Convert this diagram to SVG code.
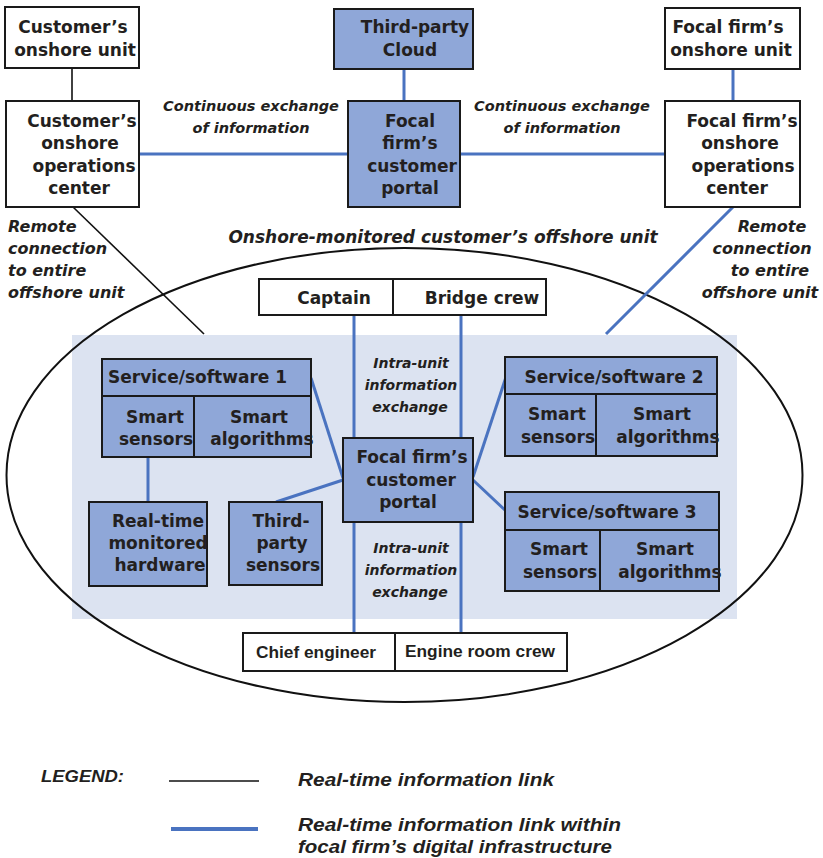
<svg xmlns="http://www.w3.org/2000/svg" width="823" height="858" viewBox="0 0 823 858">
<style>
.wb{fill:#fff;stroke:#1a1a1a;stroke-width:2}
.bb{fill:#8fa7d8;stroke:#1a1a1a;stroke-width:2}
.t{font-family:"DejaVu Sans",sans-serif;font-weight:bold;font-size:17px;fill:#231f20;text-anchor:middle}
.i{font-family:"DejaVu Sans",sans-serif;font-weight:bold;font-style:italic;fill:#231f20;text-anchor:middle}
.n{font-family:"Liberation Sans",sans-serif;font-weight:bold;fill:#231f20}
.s{text-anchor:start}
.bl{stroke:#4a73c0;stroke-width:3;fill:none}
.kl{stroke:#111;stroke-width:1.6;fill:none}
</style>
<rect x="72" y="335" width="665" height="284" fill="#dce3f1"/>
<ellipse cx="404.5" cy="475" rx="398" ry="227" fill="none" stroke="#111" stroke-width="2"/>
<g id="connectors">
<line class="kl" x1="72" y1="68" x2="72" y2="101"/>
<line class="kl" x1="73" y1="207" x2="204" y2="334"/>
<line class="bl" x1="404" y1="69" x2="404" y2="101"/>
<line class="bl" x1="139" y1="154" x2="348" y2="154"/>
<line class="bl" x1="460" y1="154" x2="665" y2="154"/>
<line class="bl" x1="733" y1="69" x2="733" y2="101"/>
<line class="bl" x1="733" y1="207" x2="606" y2="334"/>
<line class="bl" x1="354" y1="315" x2="354" y2="438"/>
<line class="bl" x1="354" y1="522" x2="354" y2="633"/>
<line class="bl" x1="461" y1="315" x2="461" y2="438"/>
<line class="bl" x1="461" y1="522" x2="461" y2="633"/>
<line class="bl" x1="311" y1="378" x2="343" y2="478"/>
<line class="bl" x1="343" y1="480" x2="276" y2="502"/>
<line class="bl" x1="148" y1="457" x2="148" y2="502"/>
<line class="bl" x1="473" y1="477" x2="506" y2="377"/>
<line class="bl" x1="473" y1="480" x2="506" y2="511"/>
</g>
<g id="cust-unit">
<rect class="wb" x="5" y="7" width="134" height="61"/>
<text class="t" x="73" y="33">Customer’s</text>
<text class="t" x="75" y="56">onshore unit</text>
</g>
<g id="cust-ops">
<rect class="wb" x="6" y="101" width="133" height="106"/>
<text class="t" x="82" y="127">Customer’s</text>
<text class="t" x="80" y="149">onshore</text>
<text class="t" x="84" y="172">operations</text>
<text class="t" x="79" y="194">center</text>
</g>
<g id="cloud">
<rect class="bb" x="334" y="9" width="139" height="60"/>
<text class="t" x="415" y="33">Third-party</text>
<text class="t" x="410" y="56">Cloud</text>
</g>
<g id="portal-top">
<rect class="bb" x="348" y="101" width="112" height="106"/>
<text class="t" x="410" y="127">Focal</text>
<text class="t" x="410" y="149">firm’s</text>
<text class="t" x="412" y="172">customer</text>
<text class="t" x="410" y="194">portal</text>
</g>
<g id="focal-unit">
<rect class="wb" x="665" y="8" width="135" height="61"/>
<text class="t" x="728" y="33">Focal firm’s</text>
<text class="t" x="731" y="56">onshore unit</text>
</g>
<g id="focal-ops">
<rect class="wb" x="665" y="101" width="135" height="106"/>
<text class="t" x="742" y="127">Focal firm’s</text>
<text class="t" x="740" y="149">onshore</text>
<text class="t" x="743" y="172">operations</text>
<text class="t" x="737" y="194">center</text>
</g>
<g id="labels">
<text class="i" font-size="14.5" x="251" y="111">Continuous exchange</text>
<text class="i" font-size="14.5" x="251" y="133">of information</text>
<text class="i" font-size="14.5" x="562" y="111">Continuous exchange</text>
<text class="i" font-size="14.5" x="562" y="133">of information</text>
<text class="i" font-size="17" x="443" y="243">Onshore-monitored customer’s offshore unit</text>
<text class="i s" font-size="16" x="8" y="232">Remote</text>
<text class="i s" font-size="16" x="8" y="254">connection</text>
<text class="i s" font-size="16" x="8" y="276">to entire</text>
<text class="i s" font-size="16" x="8" y="298">offshore unit</text>
<text class="i" font-size="16" x="772" y="232">Remote</text>
<text class="i" font-size="16" x="762" y="254">connection</text>
<text class="i" font-size="16" x="770" y="276">to entire</text>
<text class="i" font-size="16" x="760" y="298">offshore unit</text>
<text class="i" font-size="14" x="411" y="368">Intra-unit</text>
<text class="i" font-size="14" x="411" y="390">information</text>
<text class="i" font-size="14" x="410" y="412">exchange</text>
<text class="i" font-size="14" x="411" y="553">Intra-unit</text>
<text class="i" font-size="14" x="411" y="575">information</text>
<text class="i" font-size="14" x="410" y="597">exchange</text>
</g>
<g id="bridge">
<rect class="wb" x="259" y="279" width="134" height="36"/>
<rect class="wb" x="393" y="279" width="153" height="36"/>
<text class="t" x="334" y="304">Captain</text>
<text class="t" x="482" y="304">Bridge crew</text>
</g>
<g id="portal">
<rect class="bb" x="343" y="438" width="130" height="84"/>
<text class="t" x="412" y="463">Focal firm’s</text>
<text class="t" x="411" y="486">customer</text>
<text class="t" x="408" y="508">portal</text>
</g>
<g id="sw1">
<rect class="bb" x="102" y="359" width="209" height="37"/>
<rect class="bb" x="102" y="396" width="92" height="61"/>
<rect class="bb" x="194" y="396" width="117" height="61"/>
<text class="t s" x="108" y="383">Service/software 1</text>
<text class="t" x="155" y="423">Smart</text>
<text class="t" x="156" y="445">sensors</text>
<text class="t" x="259" y="423">Smart</text>
<text class="t" x="262" y="445">algorithms</text>
</g>
<g id="hardware">
<rect class="bb" x="89" y="502" width="118" height="84"/>
<text class="t" x="158" y="527">Real-time</text>
<text class="t" x="158" y="549">monitored</text>
<text class="t" x="160" y="571">hardware</text>
</g>
<g id="tp-sensors">
<rect class="bb" x="229" y="502" width="93" height="83"/>
<text class="t" x="281" y="527">Third-</text>
<text class="t" x="282" y="549">party</text>
<text class="t" x="283" y="571">sensors</text>
</g>
<g id="sw2">
<rect class="bb" x="505" y="357" width="212" height="37"/>
<rect class="bb" x="505" y="394" width="91" height="62"/>
<rect class="bb" x="596" y="394" width="121" height="62"/>
<text class="t" x="614" y="383">Service/software 2</text>
<text class="t" x="557" y="420">Smart</text>
<text class="t" x="558" y="443">sensors</text>
<text class="t" x="662" y="420">Smart</text>
<text class="t" x="668" y="443">algorithms</text>
</g>
<g id="sw3">
<rect class="bb" x="505" y="492" width="214" height="38"/>
<rect class="bb" x="505" y="530" width="95" height="61"/>
<rect class="bb" x="600" y="530" width="119" height="61"/>
<text class="t" x="607" y="518">Service/software 3</text>
<text class="t" x="559" y="555">Smart</text>
<text class="t" x="560" y="578">sensors</text>
<text class="t" x="665" y="555">Smart</text>
<text class="t" x="670" y="578">algorithms</text>
</g>
<g id="engine">
<rect class="wb" x="243" y="633" width="152" height="38"/>
<rect class="wb" x="395" y="633" width="172" height="38"/>
<text class="n" font-size="16" x="256" y="658" textLength="120" lengthAdjust="spacingAndGlyphs">Chief engineer</text>
<text class="n" font-size="16" x="405" y="657" textLength="150" lengthAdjust="spacingAndGlyphs">Engine room crew</text>
</g>
<g id="legend">
<text class="n" font-style="italic" font-size="17" x="41" y="782" textLength="83" lengthAdjust="spacingAndGlyphs">LEGEND:</text>
<line x1="169" y1="781" x2="259" y2="781" stroke="#111" stroke-width="1.6"/>
<text class="n" font-style="italic" font-size="18" x="298" y="786" textLength="256" lengthAdjust="spacingAndGlyphs">Real-time information link</text>
<line x1="171" y1="829" x2="258" y2="829" stroke="#4a73c0" stroke-width="4"/>
<text class="n" font-style="italic" font-size="18" x="298" y="831" textLength="323" lengthAdjust="spacingAndGlyphs">Real-time information link within</text>
<text class="n" font-style="italic" font-size="18" x="298" y="853" textLength="314" lengthAdjust="spacingAndGlyphs">focal firm’s digital infrastructure</text>
</g>
</svg>
